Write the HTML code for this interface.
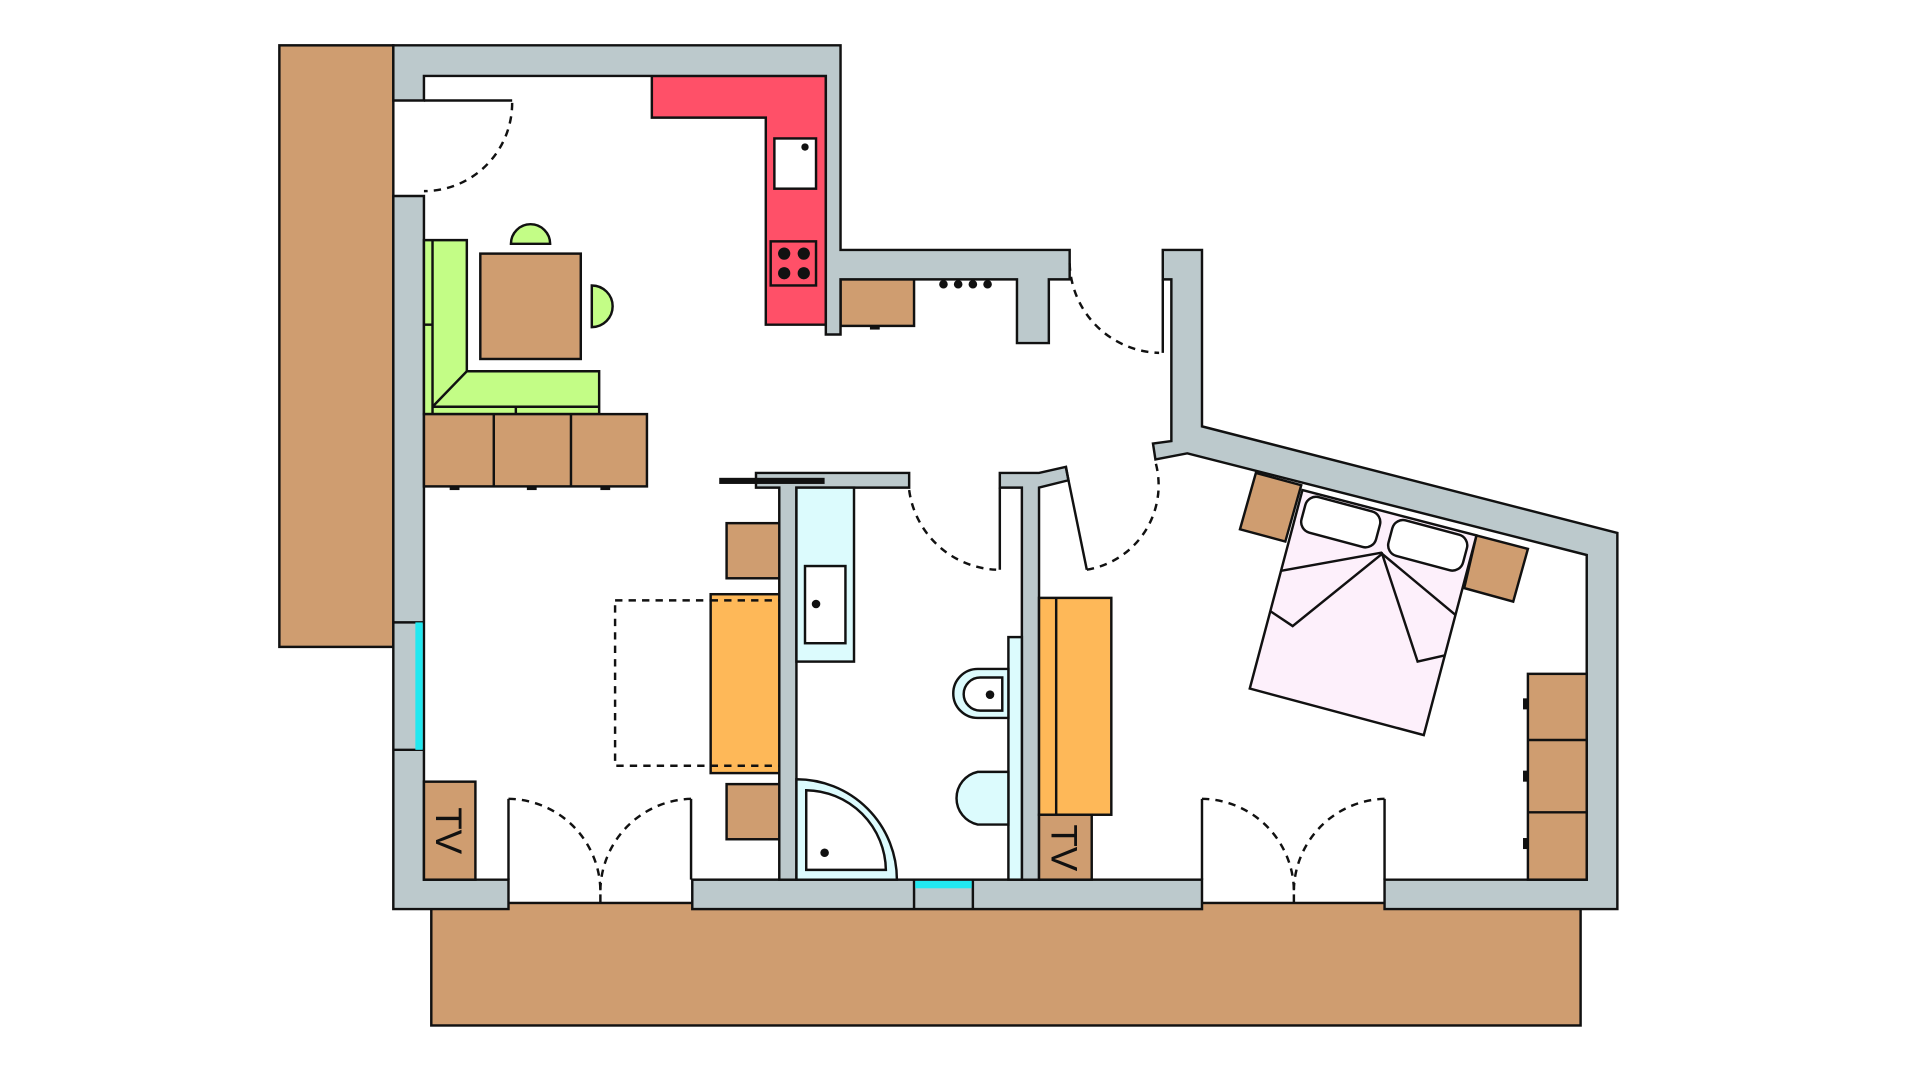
<!DOCTYPE html>
<html><head><meta charset="utf-8"><style>html,body{margin:0;padding:0;background:#fff;overflow:hidden}svg{display:block}</style></head><body>
<svg width="1920" height="1080" viewBox="0 0 1567 881.5" preserveAspectRatio="none" xmlns="http://www.w3.org/2000/svg">
<g stroke="#111" stroke-width="2" stroke-linejoin="miter">
<rect x="228" y="37" width="93" height="491" fill="#cf9d70"/>
<rect x="352" y="737" width="938" height="100" fill="#cf9d70"/>
<polygon points="532,62 674,62 674,265 625,265 625,96 532,96" fill="#ff5068"/>
<rect x="632" y="113" width="34" height="41" fill="#fff"/>
<circle cx="657" cy="120" r="3" fill="#111" stroke="none"/>
<rect x="629" y="197" width="37" height="36" fill="#ff5068"/>
<g fill="#111" stroke="none"><circle cx="640" cy="207" r="5"/><circle cx="656" cy="207" r="5"/><circle cx="640" cy="223" r="5"/><circle cx="656" cy="223" r="5"/>
<circle cx="770" cy="232" r="3.5"/><circle cx="782" cy="232" r="3.5"/><circle cx="794" cy="232" r="3.5"/><circle cx="806" cy="232" r="3.5"/></g>
<rect x="686" y="228" width="60" height="38" fill="#cf9d70"/>
<g fill="#bcc9cc">
<polygon points="321,37 686,37 686,204 873,204 873,228 856,228 856,280 830,280 830,228 686,228 686,273 674,273 674,62 346,62 346,82 321,82"/>
<polygon points="321,160 346,160 346,718 415,718 415,742 321,742"/>
<rect x="565" y="718" width="416" height="24"/>
<polygon points="617,386 742,386 742,398 650,398 650,718 636,718 636,398 617,398"/>
<polygon points="816,386 848,386 870,381 872,392 848,398 848,718 834,718 834,398 816,398"/>
<polygon points="949,204 981,204 981,348 1320,435 1320,742 1130,742 1130,718 1295,718 1295,453 969,370 943,375 941,362 956,360 956,228 949,228"/>
</g>
<line x1="321" y1="508" x2="346" y2="508"/><line x1="321" y1="612" x2="346" y2="612"/>
<rect x="339" y="508" width="6" height="104" fill="#22e8f0" stroke="none"/>
<line x1="746" y1="718" x2="746" y2="742"/><line x1="794" y1="718" x2="794" y2="742"/>
<rect x="747" y="719" width="46" height="6" fill="#22e8f0" stroke="none"/>
<rect x="587" y="390" width="86" height="5" fill="#111" stroke="none"/>
<polygon points="346,196 381,196 381,303 489,303 489,338 346,338" fill="#c3fd86"/>
<line x1="353" y1="196" x2="353" y2="338"/><line x1="346" y1="265" x2="353" y2="265"/>
<line x1="353" y1="332" x2="489" y2="332"/><line x1="421" y1="332" x2="421" y2="338"/>
<line x1="353" y1="332" x2="381" y2="303"/>
<rect x="392" y="207" width="82" height="86" fill="#cf9d70"/>
<path d="M417,199 A16,16 0 0 1 449,199 Z" fill="#c3fd86"/>
<path d="M483,233 A17,17 0 0 1 483,267 Z" fill="#c3fd86"/>
<rect x="346" y="338" width="182" height="59" fill="#cf9d70"/>
<line x1="403" y1="338" x2="403" y2="397"/><line x1="466" y1="338" x2="466" y2="397"/>
<g fill="#111" stroke="none"><rect x="367" y="397" width="8" height="3"/><rect x="430" y="397" width="8" height="3"/><rect x="490" y="397" width="8" height="3"/><rect x="710" y="266" width="8" height="3"/></g>
<g fill="none" stroke-dasharray="6,5">
<path d="M418,84 A72,72 0 0 1 346,156"/>
<path d="M415,652 A76,76 0 0 1 490,730"/><path d="M564,652 A76,76 0 0 0 490,730"/>
<path d="M742,400 A75,75 0 0 0 813,465"/>
<path d="M887,465 A70,70 0 0 0 943,377"/>
<path d="M981,652 A76,76 0 0 1 1056,730"/><path d="M1130,652 A76,76 0 0 0 1056,730"/>
<path d="M873,215 A75,75 0 0 0 946,288"/>
</g>
<line x1="346" y1="82" x2="418" y2="82"/>
<line x1="415" y1="652" x2="415" y2="718"/><line x1="564" y1="652" x2="564" y2="718"/>
<line x1="490" y1="730" x2="490" y2="737"/><line x1="1056" y1="730" x2="1056" y2="737"/>
<line x1="816" y1="398" x2="816" y2="465"/>
<line x1="870" y1="382" x2="887" y2="465"/>
<line x1="981" y1="652" x2="981" y2="718"/><line x1="1130" y1="652" x2="1130" y2="718"/>
<line x1="949" y1="228" x2="949" y2="288"/>
<rect x="502" y="490" width="134" height="135" fill="none" stroke-dasharray="6,5"/>
<rect x="580" y="485" width="56" height="146" fill="#feb858"/>
<line x1="580" y1="490" x2="636" y2="490" stroke-dasharray="6,5"/><line x1="580" y1="625" x2="636" y2="625" stroke-dasharray="6,5"/>
<rect x="593" y="427" width="43" height="45" fill="#cf9d70"/>
<rect x="593" y="640" width="43" height="45" fill="#cf9d70"/>
<rect x="346" y="638" width="42" height="80" fill="#cf9d70"/>
<rect x="650" y="398" width="47" height="142" fill="#dcfbfd"/>
<rect x="657" y="462" width="33" height="63" fill="#fff"/>
<circle cx="666" cy="493" r="3.5" fill="#111" stroke="none"/>
<path d="M650,718 L650,636 A82,82 0 0 1 732,718 Z" fill="#dcfbfd"/>
<path d="M658,710 L658,645 A66,66 0 0 1 723,710 Z" fill="#fff"/>
<circle cx="673" cy="696" r="3.5" fill="#111" stroke="none"/>
<rect x="823" y="520" width="11" height="198" fill="#dcfbfd"/>
<path d="M823,546 L798,546 A20,20 0 0 0 798,586 L823,586 Z" fill="#dcfbfd"/>
<path d="M818,553 L800,553 A13,13 0 0 0 800,580 L818,580 Z" fill="#fff"/>
<circle cx="808" cy="567" r="3.5" fill="#111" stroke="none"/>
<path d="M823,630 L798,630 A22,22 0 0 0 798,673 L823,673 Z" fill="#dcfbfd"/>
<rect x="848" y="488" width="59" height="177" fill="#feb858"/>
<line x1="862" y1="488" x2="862" y2="665"/>
<rect x="848" y="665" width="43" height="53" fill="#cf9d70"/>
<polygon points="1025,386 1062,396 1049,442 1012,432" fill="#cf9d70"/>
<polygon points="1205,437 1247,448 1235,491 1195,480" fill="#cf9d70"/>
<polygon points="1063,400 1205,437 1162,600 1020,562" fill="#fdf0fb"/>
<g transform="rotate(15 1094 425)"><rect x="1063" y="411" width="63" height="30" rx="9" fill="#fff"/></g>
<g transform="rotate(15 1165 444)"><rect x="1134" y="430" width="63" height="30" rx="9" fill="#fff"/></g>
<line x1="1045" y1="466" x2="1128" y2="451"/>
<polyline points="1037,499 1055,511 1128,452 1157,540 1179,535" fill="none"/>
<line x1="1128" y1="452" x2="1188" y2="502"/>
<rect x="1247" y="550" width="48" height="168" fill="#cf9d70"/>
<line x1="1247" y1="604" x2="1295" y2="604"/><line x1="1247" y1="663" x2="1295" y2="663"/>
<g fill="#111" stroke="none"><rect x="1243" y="570" width="4" height="9"/><rect x="1243" y="629" width="4" height="9"/><rect x="1243" y="684" width="4" height="9"/></g>
</g>
<text x="0" y="0" transform="translate(356,678) rotate(90)" text-anchor="middle" font-family="Liberation Sans, sans-serif" font-size="30" fill="#111">TV</text>
<text x="0" y="0" transform="translate(858,692) rotate(90)" text-anchor="middle" font-family="Liberation Sans, sans-serif" font-size="30" fill="#111">TV</text>
</svg>
</body></html>
